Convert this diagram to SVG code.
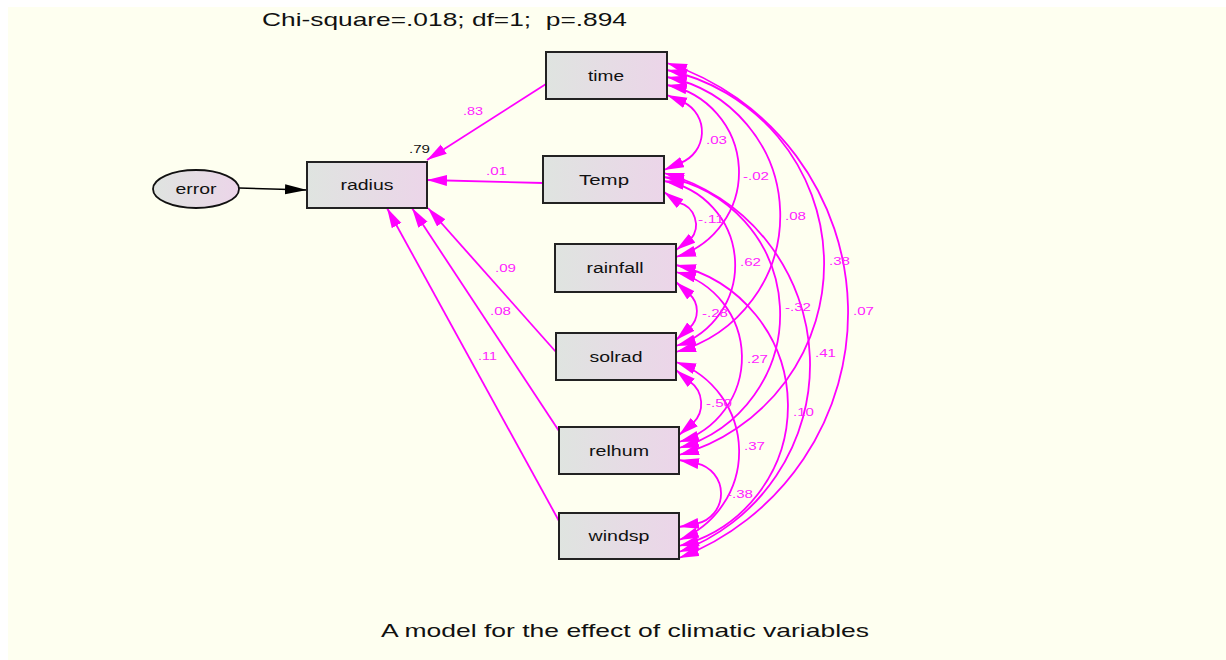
<svg xmlns="http://www.w3.org/2000/svg" width="1226" height="660" viewBox="0 0 1226 660">
  <style>
    .bg { fill: #fefff0; }
    .box { fill: url(#boxFill); stroke: #222; stroke-width: 2; }
    .lbl { font-family: "Liberation Sans", Arial, sans-serif; font-size: 14px; fill: #111; text-anchor: middle; }
    .path { fill: none; stroke: #ff00ff; stroke-width: 1.8; marker-end: url(#headM); }
    .cov { fill: none; stroke: #ff00ff; stroke-width: 1.8; marker-start: url(#headM); marker-end: url(#headM); }
    .coef { font-family: "Liberation Sans", Arial, sans-serif; font-size: 11px; fill: #ff22ff; }
    .head { font-family: "Liberation Sans", Arial, sans-serif; font-size: 19px; fill: #111; }
  </style>
  <defs>
    <linearGradient id="boxFill" x1="0" y1="0" x2="1" y2="0">
      <stop offset="0" stop-color="#dfe4e0"/>
      <stop offset="1" stop-color="#ecd5e9"/>
    </linearGradient>
    <marker id="headM" markerUnits="userSpaceOnUse" markerWidth="22" markerHeight="12" refX="20" refY="5.5" orient="auto-start-reverse">
      <path d="M0,0 L20,5.5 L0,11 z" fill="#ff00ff"/>
    </marker>
    <marker id="headK" markerUnits="userSpaceOnUse" markerWidth="24" markerHeight="12" refX="22" refY="5" orient="auto">
      <path d="M0,0 L22,5 L0,10 z" fill="#000"/>
    </marker>
  </defs>

  <rect class="bg" x="8" y="7" width="1218" height="653"/>

  <text class="head" x="262" y="26" textLength="365" lengthAdjust="spacingAndGlyphs">Chi-square=.018; df=1;&#160; p=.894</text>
  <text class="head" x="381" y="637" textLength="488" lengthAdjust="spacingAndGlyphs">A model for the effect of climatic variables</text>

  <g id="connectors">
    <!-- error term into radius -->
    <path d="M239,188 L307,190" fill="none" stroke="#000" stroke-width="1.6" marker-end="url(#headK)"/>

    <!-- regression paths into radius -->
    <path class="path" d="M546,84 L427,160"/>
    <path class="path" d="M543,183 L427,180"/>
    <path class="path" d="M556,352 L428,208"/>
    <path class="path" d="M559,431 L412,208"/>
    <path class="path" d="M559,521 L387,208"/>
    <text class="coef" x="463" y="115" textLength="20" lengthAdjust="spacingAndGlyphs">.83</text>
    <text class="coef" x="486" y="175" textLength="21" lengthAdjust="spacingAndGlyphs">.01</text>
    <text class="coef" x="495" y="272" textLength="21" lengthAdjust="spacingAndGlyphs">.09</text>
    <text class="coef" x="490" y="315" textLength="21" lengthAdjust="spacingAndGlyphs">.08</text>
    <text class="coef" x="478" y="360" textLength="19" lengthAdjust="spacingAndGlyphs">.11</text>
    <text class="coef" x="409" y="153" textLength="21" lengthAdjust="spacingAndGlyphs" style="fill:#111">.79</text>

    <!-- covariances among the exogenous variables -->
    <!-- neighbours: short straight lead-in under each head, then the arc -->
    <path class="cov" d="M667,95 L683.5,102.1 A33.2,33.2 0 0 1 680.5,162.9 L664,170"/>
    <path class="cov" d="M664,192 L678.6,202.6 A22.8,22.8 0 0 1 690.6,239.4 L676,250"/>
    <path class="cov" d="M676,282 L689.4,294 A23,23 0 0 1 689.4,328 L676,340"/>
    <path class="cov" d="M676,370 L689.8,381.6 A27.2,27.2 0 0 1 692.8,423.4 L679,435"/>
    <path class="cov" d="M679,460 L696.7,463.3 A30.9,30.9 0 0 1 696.7,523.7 L679,527"/>
    <!-- wider spans -->
    <path class="cov" d="M667,85 A88.7,88.7 0 0 1 676,257"/>
    <path class="cov" d="M667,77 A141.4,141.4 0 0 1 676,352"/>
    <path class="cov" d="M667,70 A198.3,198.3 0 0 1 679,455"/>
    <path class="cov" d="M667,63 A262.6,262.6 0 0 1 679,558"/>
    <path class="cov" d="M664,181 A85.1,85.1 0 0 1 676,346"/>
    <path class="cov" d="M664,177 A139.1,139.1 0 0 1 679,448"/>
    <path class="cov" d="M664,173 A199.1,199.1 0 0 1 679,552"/>
    <path class="cov" d="M676,272 A88.3,88.3 0 0 1 679,442"/>
    <path class="cov" d="M676,265 A144.6,144.6 0 0 1 679,546"/>
    <path class="cov" d="M676,362 A95.1,95.1 0 0 1 679,540"/>

    <text class="coef" x="706" y="144" textLength="21" lengthAdjust="spacingAndGlyphs">.03</text>
    <text class="coef" x="743" y="180" textLength="26" lengthAdjust="spacingAndGlyphs">-.02</text>
    <text class="coef" x="785" y="220" textLength="21" lengthAdjust="spacingAndGlyphs">.08</text>
    <text class="coef" x="829" y="265" textLength="21" lengthAdjust="spacingAndGlyphs">.38</text>
    <text class="coef" x="853" y="315" textLength="21" lengthAdjust="spacingAndGlyphs">.07</text>
    <text class="coef" x="698" y="223" textLength="26" lengthAdjust="spacingAndGlyphs">-.11</text>
    <text class="coef" x="740" y="266" textLength="21" lengthAdjust="spacingAndGlyphs">.62</text>
    <text class="coef" x="785" y="311" textLength="26" lengthAdjust="spacingAndGlyphs">-.32</text>
    <text class="coef" x="815" y="357" textLength="21" lengthAdjust="spacingAndGlyphs">.41</text>
    <text class="coef" x="702" y="317" textLength="26" lengthAdjust="spacingAndGlyphs">-.28</text>
    <text class="coef" x="747" y="363" textLength="21" lengthAdjust="spacingAndGlyphs">.27</text>
    <text class="coef" x="793" y="416" textLength="21" lengthAdjust="spacingAndGlyphs">.10</text>
    <text class="coef" x="706" y="407" textLength="26" lengthAdjust="spacingAndGlyphs">-.50</text>
    <text class="coef" x="744" y="450" textLength="21" lengthAdjust="spacingAndGlyphs">.37</text>
    <text class="coef" x="727" y="498" textLength="26" lengthAdjust="spacingAndGlyphs">-.38</text>
  </g>

  <g id="node-error">
    <ellipse cx="196" cy="189" rx="43" ry="19" fill="url(#boxFill)" stroke="#111" stroke-width="1.8"/>
    <text class="lbl" x="196" y="194" textLength="41" lengthAdjust="spacingAndGlyphs">error</text>
  </g>
  <g id="node-radius">
    <rect class="box" x="307" y="162" width="120" height="46"/>
    <text class="lbl" x="367" y="190" textLength="53" lengthAdjust="spacingAndGlyphs">radius</text>
  </g>
  <g id="node-time">
    <rect class="box" x="546" y="52" width="121" height="47"/>
    <text class="lbl" x="606" y="81" textLength="36" lengthAdjust="spacingAndGlyphs">time</text>
  </g>
  <g id="node-temp">
    <rect class="box" x="543" y="156" width="121" height="47"/>
    <text class="lbl" x="604" y="185" textLength="50" lengthAdjust="spacingAndGlyphs">Temp</text>
  </g>
  <g id="node-rainfall">
    <rect class="box" x="555" y="244" width="121" height="48"/>
    <text class="lbl" x="615" y="273" textLength="57" lengthAdjust="spacingAndGlyphs">rainfall</text>
  </g>
  <g id="node-solrad">
    <rect class="box" x="556" y="333" width="120" height="47"/>
    <text class="lbl" x="616" y="362" textLength="53" lengthAdjust="spacingAndGlyphs">solrad</text>
  </g>
  <g id="node-relhum">
    <rect class="box" x="559" y="427" width="120" height="47"/>
    <text class="lbl" x="619" y="456" textLength="60" lengthAdjust="spacingAndGlyphs">relhum</text>
  </g>
  <g id="node-windsp">
    <rect class="box" x="559" y="513" width="120" height="46"/>
    <text class="lbl" x="619" y="541" textLength="61" lengthAdjust="spacingAndGlyphs">windsp</text>
  </g>
</svg>
